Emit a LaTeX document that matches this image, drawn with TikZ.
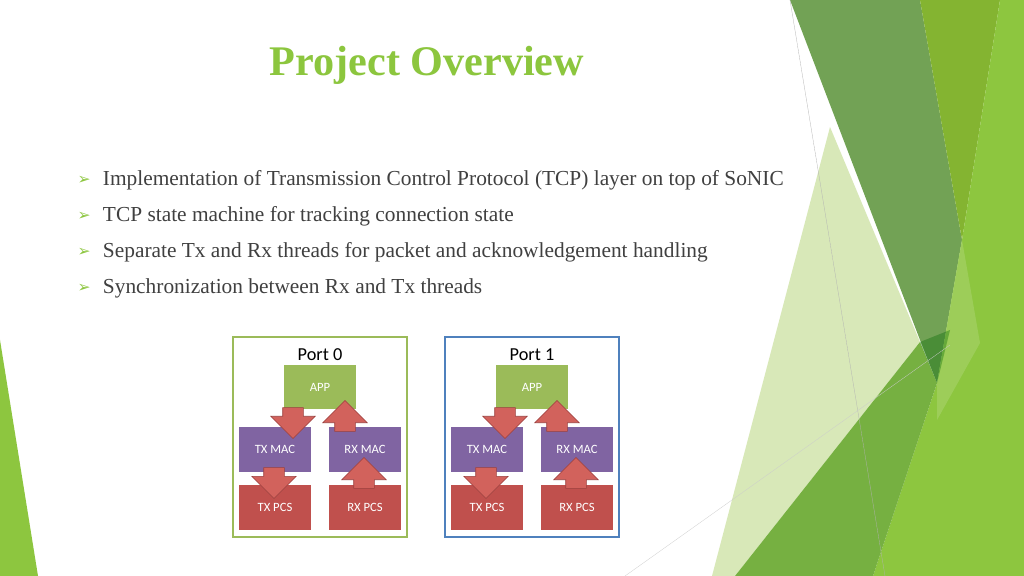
\documentclass[tikz,border=0pt]{standalone}
\usepackage{fontspec}
\setmainfont{Liberation Serif}
\newfontfamily\symfont{DejaVu Sans}
\newfontfamily\boxfont{Carlito}
\usetikzlibrary{shapes.arrows}
\definecolor{bandlight}{HTML}{8DC63F}
\definecolor{bandmid}{HTML}{84B431}
\definecolor{banddark}{HTML}{6B9E4C}
\definecolor{bandpale}{HTML}{D8E8B8}
\definecolor{bandlow}{HTML}{76B041}
\definecolor{titlegreen}{HTML}{8CC63E}
\definecolor{textgray}{HTML}{404040}
\definecolor{appgreen}{HTML}{9BBB59}
\definecolor{macpurple}{HTML}{8064A2}
\definecolor{pcsred}{HTML}{C0504D}
\definecolor{arrowred}{HTML}{D2625C}
\definecolor{portblue}{HTML}{4F81BD}

\begin{document}
\begin{tikzpicture}[x=0.025cm,y=-0.025cm]
		\tikzstyle{bullet}=[anchor=west,font=\fontsize{15.2}{17}\selectfont,text=textgray]
		\tikzstyle{bulletmark}=[text=titlegreen,font=\symfont\fontsize{11}{12}\selectfont]
		\tikzstyle{blk}=[minimum width=1.8cm,minimum height=1.12cm,text=white,font=\boxfont\fontsize{9}{10}\selectfont,inner sep=0pt]
		\tikzstyle{blockarrow}=[single arrow,fill=arrowred,draw=pcsred!80!black,thin,
		minimum height=0.75cm,inner sep=0.25cm,single arrow head extend=0.3cm,
		shape border uses incircle=false]
		\useasboundingbox (0,0) rectangle (1024,576);
		\fill[white] (0,0) rectangle (1024,576);
		
		%% background bands
		\fill[bandpale] (830,127) -- (920,342) -- (735,576) -- (712,576) -- cycle;
		\fill[banddark,opacity=.95] (790,0) -- (920,0) -- (962,240) -- (937,383) -- (920,340) -- cycle;
		\fill[bandmid] (920,0) -- (1000,0) -- (962,240) -- cycle;
		\fill[bandlight] (1000,0) -- (1024,0) -- (1024,576) -- (873,576) -- (937,383) -- (962,240) -- cycle;
		\fill[bandlow] (920,342) -- (937,383) -- (873,576) -- (735,576) -- cycle;
		\fill[bandlight!80!white,opacity=.7] (962,240) -- (980,343) -- (937,420) -- (937,383) -- cycle;
		\fill[green!40!black,opacity=.35] (920,342) -- (950,330) -- (937,383) -- cycle;
		\fill[bandlight] (0,340) -- (38,576) -- (0,576) -- cycle;
		\draw[gray!60,very thin] (790,0) -- (885,576);
		\draw[gray!40,very thin] (625,576) -- (950,345);
		
		%% title and bullets
		\node[text=titlegreen,font=\bfseries\fontsize{30}{33}\selectfont] (title) at (427,65) {Project Overview};
		\foreach \y/\t [count=\i] in {180/Implementation of Transmission Control Protocol (TCP) layer on top of SoNIC,
		216/TCP state machine for tracking connection state,
		252/Separate Tx and Rx threads for packet and acknowledgement handling,
		288/Synchronization between Rx and Tx threads} {
			\node[bulletmark] (m\i) at (84,\y) {➢};
			\node[bullet] (b\i) at (98,\y) {\t};
		}
		
		%% two ports
		\foreach \p/\dx/\c in {0/0/appgreen,1/212/portblue} {
			\begin{scope}[xshift=\dx*0.025cm]
			\draw[\c,thick] (233,337) rectangle (407,537);
			\node[font=\boxfont\fontsize{13}{14}\selectfont] (port\p) at (320,355) {Port \p};
			\node[blk,fill=appgreen] (app\p) at (320,387) {APP};
			\node[blk,fill=macpurple] (txmac\p) at (275,449.5) {TX MAC};
			\node[blk,fill=macpurple] (rxmac\p) at (365,449.5) {RX MAC};
			\node[blk,fill=pcsred] (txpcs\p) at (275,507.5) {TX PCS};
			\node[blk,fill=pcsred] (rxpcs\p) at (365,507.5) {RX PCS};
			\node[blockarrow,rotate=-90] (down\p a) at (293,418) {};
			\node[blockarrow,rotate=90] (up\p a) at (345,421) {};
			\node[blockarrow,rotate=-90] (down\p b) at (274,478) {};
			\node[blockarrow,rotate=90] (up\p b) at (364,478) {};
			\end{scope}
		}
		
		\end{tikzpicture}
\end{document}
